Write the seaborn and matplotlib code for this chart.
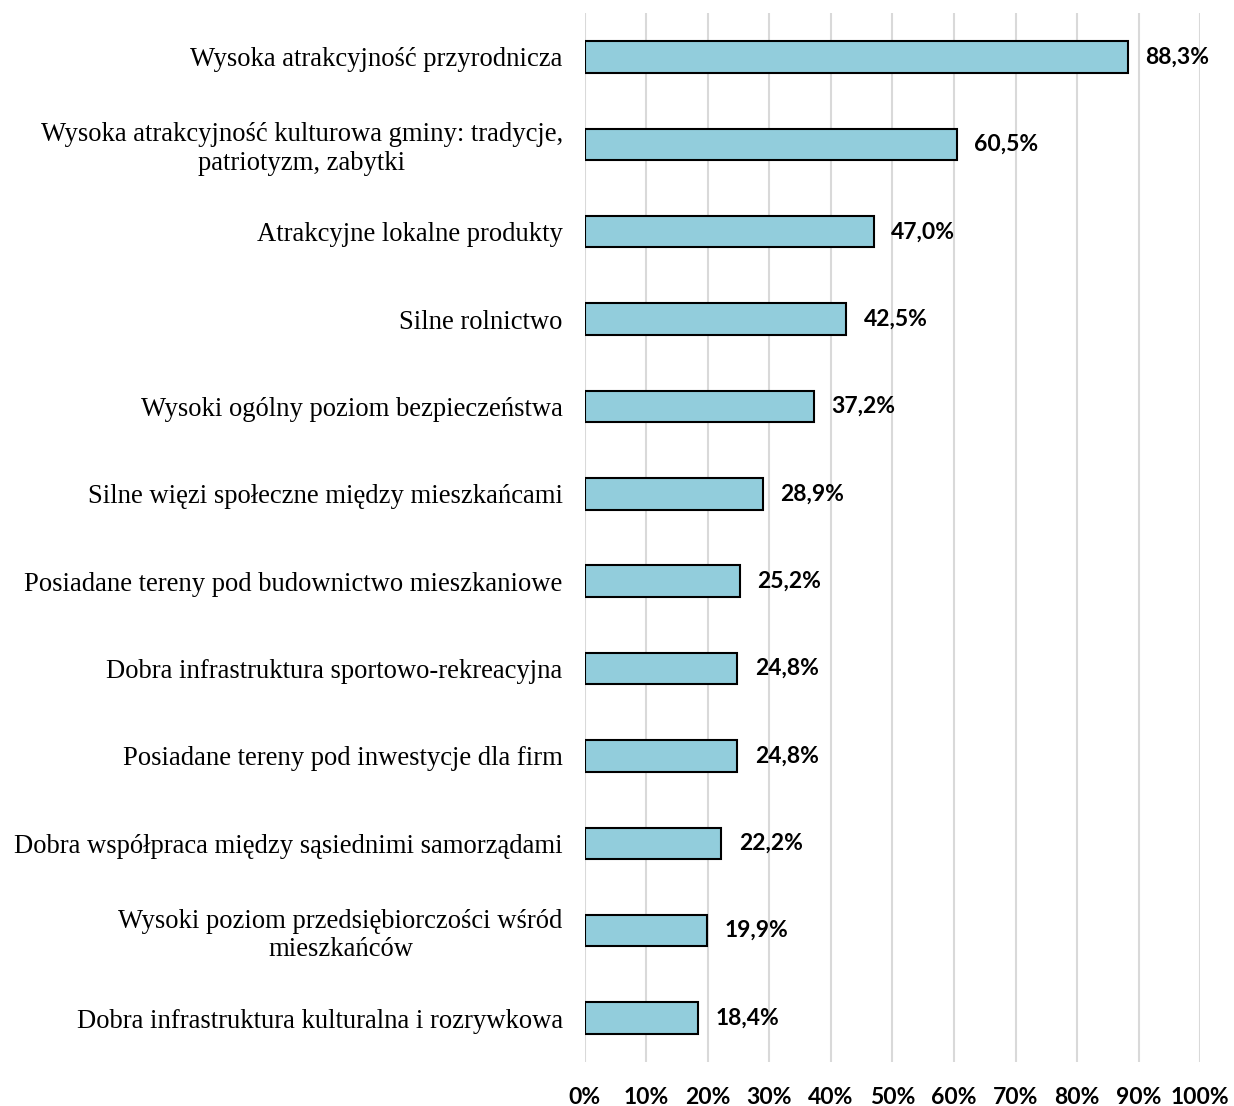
import pandas as pd
import seaborn as sns
import matplotlib.pyplot as plt

kategorie = [
    "Wysoka atrakcyjność przyrodnicza",
    "Wysoka atrakcyjność kulturowa gminy: tradycje,\npatriotyzm, zabytki",
    "Atrakcyjne lokalne produkty",
    "Silne rolnictwo",
    "Wysoki ogólny poziom bezpieczeństwa",
    "Silne więzi społeczne między mieszkańcami",
    "Posiadane tereny pod budownictwo mieszkaniowe",
    "Dobra infrastruktura sportowo-rekreacyjna",
    "Posiadane tereny pod inwestycje dla firm",
    "Dobra współpraca między sąsiednimi samorządami",
    "Wysoki poziom przedsiębiorczości wśród\nmieszkańców",
    "Dobra infrastruktura kulturalna i rozrywkowa",
]
wartosci = [88.3, 60.5, 47.0, 42.5, 37.2, 28.9, 25.2, 24.8, 24.8, 22.2, 19.9, 18.4]
ticki = [0, 10, 20, 30, 40, 50, 60, 70, 80, 90, 100]

df = pd.DataFrame({"kategoria": kategorie, "wartosc": wartosci})

sns.set_style("white")
plt.rcParams["text.color"] = "black"
plt.rcParams["xtick.color"] = "black"
plt.rcParams["ytick.color"] = "black"
fig = plt.figure(figsize=(12.34, 11.06), dpi=100)
ax = fig.add_axes([0.474, 0.040, 0.4985, 0.948])

sns.barplot(data=df, x="wartosc", y="kategoria", color="#92CDDC",
            edgecolor="black", linewidth=1.5, width=0.36, saturation=1, ax=ax)

for i, v in enumerate(wartosci):
    ax.text(v + 2.8, i, f"{v:.1f}%".replace(".", ","), va="center", ha="left",
            fontsize=16.5, fontweight="bold", color="black",
            family=["Lato", "DejaVu Sans"])

ax.set_xlim(0, 100)
ax.set_xticks(ticki)
ax.set_xticklabels([f"{t}%" for t in ticki], fontsize=16.5, fontweight="bold",
                   family=["Lato", "DejaVu Sans"])
ax.tick_params(axis="x", length=0, pad=18)
ax.tick_params(axis="y", length=0, pad=16)
for lab in ax.get_yticklabels():
    lab.set_family(["Liberation Serif", "DejaVu Serif"])
    lab.set_fontsize(19.2)
    lab.set_multialignment("center")
    lab.set_linespacing(1.2)
ax.xaxis.grid(True, color="#D9D9D9", linewidth=1.5)
ax.set_axisbelow(True)
for s in ax.spines.values():
    s.set_visible(False)
ax.set_xlabel("")
ax.set_ylabel("")

plt.savefig("out.png", dpi=100)
